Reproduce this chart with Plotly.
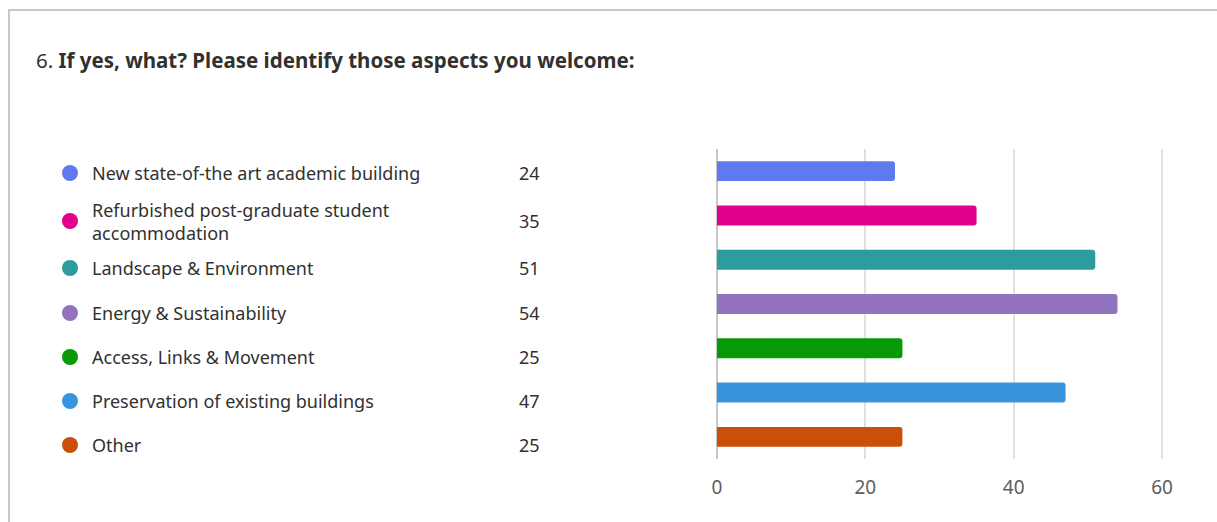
import plotly.graph_objects as go

# Survey answers: option text, response counts, bar colours
options = [
    "New state-of-the art academic building",
    "Refurbished post-graduate student<br>accommodation",
    "Landscape & Environment",
    "Energy & Sustainability",
    "Access, Links & Movement",
    "Preservation of existing buildings",
    "Other",
]
counts = [24, 35, 51, 54, 25, 47, 25]
colors = ["#6079EE", "#E3008C", "#2C9C9F", "#9173BE", "#069A06", "#3895DD", "#C94F0A"]
tick_values = [0, 20, 40, 60]

W, H = 1217, 522
TEXT = "#323130"
FONT = "Noto Sans"

# Pixel layout of the card
row_y = [173, 221, 268, 313, 357, 401, 445]   # legend row centres
dot_x, label_x, count_x = 70, 90, 542
plot_left, plot_right = 717, 1190
plot_top, plot_bottom = 149, 459
px_per_unit = (1162 - 717) / 60
x_max = (plot_right - plot_left) / px_per_unit

fig = go.Figure()

fig.add_trace(go.Bar(
    y=options, x=counts, orientation="h",
    marker=dict(color=colors, line=dict(width=0), cornerradius=3),
    xaxis="x", yaxis="y", showlegend=False, hoverinfo="x+y",
))

# Legend dots on a pixel-space axis pair spanning the whole figure
fig.add_trace(go.Scatter(
    x=[dot_x] * len(options), y=row_y, mode="markers",
    marker=dict(size=16, color=colors, line=dict(width=0)),
    xaxis="x2", yaxis="y2", showlegend=False, hoverinfo="skip",
))

annotations = []
for opt, n, yy in zip(options, counts, row_y):
    annotations.append(dict(
        x=label_x, y=yy, xref="x2", yref="y2", text=opt, showarrow=False,
        xanchor="left", yanchor="middle", align="left",
        font=dict(family=FONT, size=18, color=TEXT),
    ))
    annotations.append(dict(
        x=count_x, y=yy, xref="x2", yref="y2", text=str(n), showarrow=False,
        xanchor="right", yanchor="middle",
        font=dict(family=FONT, size=18, color=TEXT),
    ))

annotations.append(dict(
    x=34, y=60, xref="x2", yref="y2", showarrow=False,
    xanchor="left", yanchor="middle",
    text="6. <b>If yes, what? Please identify those aspects you welcome:</b>",
    font=dict(family=FONT, size=20.5, color=TEXT),
))

fig.update_layout(
    width=W, height=H,
    margin=dict(l=0, r=0, t=0, b=0),
    paper_bgcolor="white", plot_bgcolor="rgba(0,0,0,0)",
    bargap=0.55,
    xaxis=dict(
        domain=[plot_left / W, plot_right / W], range=[0, x_max],
        tickvals=tick_values, showgrid=True, gridcolor="#E1E1E1", gridwidth=1.5,
        zeroline=True, zerolinecolor="#C8C8C8", zerolinewidth=2,
        showline=False, ticks="", automargin=False, ticklabelstandoff=15,
        tickfont=dict(family=FONT, size=19, color="#605E5C"),
        anchor="y",
    ),
    yaxis=dict(
        domain=[1 - plot_bottom / H, 1 - plot_top / H],
        autorange="reversed", showticklabels=False, showgrid=False,
        zeroline=False, ticks="", automargin=False, anchor="x",
    ),
    xaxis2=dict(domain=[0, 1], range=[0, W], visible=False, fixedrange=True,
                anchor="y2"),
    yaxis2=dict(domain=[0, 1], range=[H, 0], visible=False, fixedrange=True,
                anchor="x2"),
    annotations=annotations,
    shapes=[dict(
        type="path", xref="x2", yref="y2",
        path=f"M 9 {H} L 9 10 L {W} 10",
        line=dict(color="#C8C8C8", width=2),
    )],
)

fig.write_html("out.html")
